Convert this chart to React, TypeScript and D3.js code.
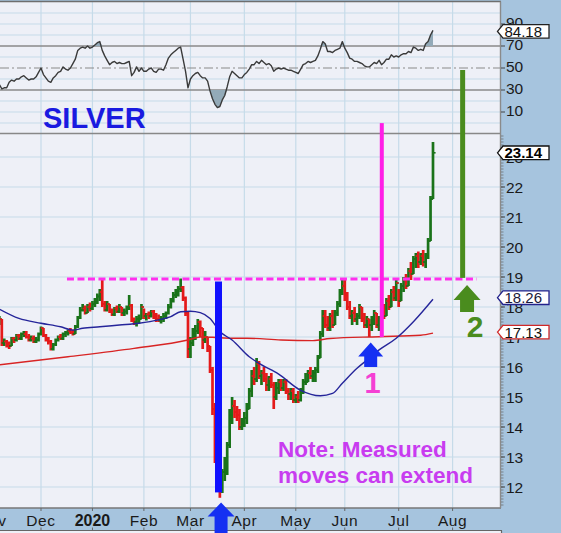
import React from "react";
import * as d3 from "d3";

// Daily bars [high, low, close]; trading-day index 0 = 1 Nov 2019
const nov19 = [[18.2,17.9,18.1],[18.1,17.8,17.9],[17.9,17.5,17.6],[17.7,17.4,17.6],[17.6,16.7,16.8],[16.95,16.7,16.85],[16.9,16.65,16.8],[16.85,16.6,16.7],[17.0,16.7,16.95],[17.0,16.8,16.9],[17.1,16.85,17.05],[17.1,16.9,16.95],[17.15,16.9,17.1],[17.2,17.0,17.1],[17.2,16.95,17.0],[17.1,16.85,16.9],[17.05,16.85,16.95],[17.05,16.8,16.85],[17.0,16.8,16.9],[17.15,16.85,17.1]];
const dec19 = [[17.35,17.05,17.3],[17.3,17.0,17.05],[17.1,16.85,16.9],[17.0,16.75,16.85],[16.9,16.55,16.6],[16.8,16.55,16.75],[16.95,16.7,16.9],[17.05,16.85,17.0],[17.1,16.9,16.95],[17.15,16.9,17.1],[17.2,17.0,17.15],[17.25,17.05,17.2],[17.3,17.1,17.15],[17.25,17.05,17.1],[17.4,17.1,17.35],[17.7,17.3,17.65],[18.0,17.6,17.9],[18.1,17.85,17.95],[18.05,17.75,17.8],[18.1,17.8,18.0],[18.15,17.85,17.95]];
const jan20 = [[18.2,17.9,18.1],[18.3,18.0,18.15],[18.45,18.1,18.35],[18.6,18.2,18.5],[18.9,18.0,18.1],[18.2,17.85,17.9],[18.2,17.85,18.1],[18.1,17.8,17.85],[17.95,17.7,17.75],[18.0,17.7,17.95],[18.05,17.8,17.85],[18.1,17.8,18.0],[18.0,17.7,17.8],[17.95,17.7,17.85],[18.05,17.75,17.95],[18.4,17.9,18.05],[18.1,17.5,17.55],[17.65,17.4,17.5],[17.7,17.35,17.6],[17.75,17.45,17.6],[18.1,17.6,18.0]];
const feb20 = [[17.95,17.6,17.7],[17.8,17.55,17.75],[17.85,17.6,17.7],[17.9,17.65,17.85],[17.9,17.6,17.65],[17.8,17.5,17.6],[17.75,17.5,17.55],[17.7,17.45,17.6],[17.8,17.5,17.7],[17.85,17.6,17.8],[18.1,17.75,18.0],[18.3,17.95,18.2],[18.5,18.15,18.4],[18.6,18.3,18.5],[18.7,18.35,18.6],[18.95,18.5,18.65],[18.7,18.2,18.3],[18.35,17.7,17.8],[17.85,16.3,16.6]];
const mar20 = [[17.0,16.3,16.8],[17.3,16.7,17.1],[17.4,16.9,17.2],[17.6,17.1,17.5],[17.55,17.0,17.3],[17.3,16.6,16.9],[17.2,16.8,17.0],[17.0,16.5,16.7],[16.7,15.8,15.9],[16.0,14.4,14.6],[14.8,12.8,13.0],[13.2,11.9,12.3],[12.9,11.64,12.0],[12.6,11.8,12.5],[13.0,12.2,12.6],[13.5,12.4,13.4],[14.6,13.3,14.4],[15.0,14.1,14.7],[14.9,14.3,14.5],[14.7,14.2,14.4],[14.6,13.9,14.0],[14.3,13.9,14.1]];
const apr20 = [[14.5,14.0,14.3],[14.8,14.1,14.6],[15.3,14.6,15.2],[15.9,15.0,15.7],[16.0,15.4,15.6],[16.3,15.5,16.1],[16.2,15.6,15.7],[15.9,15.4,15.8],[16.0,15.5,15.6],[15.8,15.2,15.4],[15.7,15.2,15.6],[15.8,15.3,15.4],[15.5,14.6,15.0],[15.5,14.9,15.3],[15.6,15.1,15.5],[15.6,15.2,15.3],[15.6,15.2,15.5],[15.6,15.1,15.2],[15.3,14.9,15.1],[15.3,14.9,15.2],[15.3,14.8,14.9]];
const may20 = [[15.1,14.8,15.0],[15.2,14.8,14.9],[15.3,14.85,15.2],[15.6,15.1,15.5],[15.8,15.4,15.5],[15.9,15.5,15.8],[16.0,15.6,15.7],[15.9,15.5,15.8],[16.0,15.5,15.9],[16.4,15.8,16.3],[17.2,16.3,17.1],[17.9,17.0,17.7],[17.9,17.3,17.4],[17.7,17.2,17.3],[17.8,17.2,17.7],[17.9,17.3,17.4],[17.9,17.4,17.8],[18.2,17.7,18.1],[18.6,18.0,18.5],[18.95,18.4,18.7]];
const jun20 = [[18.9,18.2,18.4],[18.5,17.9,18.0],[18.2,17.6,17.7],[17.9,17.4,17.8],[18.0,17.5,17.6],[17.8,17.4,17.7],[18.1,17.6,18.0],[18.0,17.5,17.6],[17.8,17.3,17.4],[17.7,17.3,17.6],[17.6,17.0,17.4],[17.7,17.2,17.6],[17.9,17.4,17.8],[17.8,17.3,17.4],[17.7,17.2,17.6],[18.0,17.5,17.9],[18.1,17.6,17.7],[18.3,17.7,18.2],[18.4,17.9,18.0],[18.6,18.0,18.5],[18.7,18.2,18.3],[18.9,18.2,18.8]];
const jul20 = [[18.6,18.0,18.2],[18.8,18.2,18.7],[19.0,18.5,18.9],[19.1,18.6,18.7],[19.3,18.7,19.2],[19.5,18.9,19.1],[19.7,19.1,19.6],[19.8,19.3,19.7],[19.85,19.3,19.5],[19.8,19.4,19.7],[19.9,19.35,19.5],[19.8,19.3,19.7],[20.3,19.6,20.2],[21.7,20.2,21.6],[23.5,21.6,23.14]];

// RSI(14) per trading day
const rsiNov = [45,42,38,35,31,32,32,37,39,38,40,40,42,43,41,39,40,40,42,46];
const rsiDec = [50,44,41,38,37,41,43,46,47,51,49,48,50,54,58,66,68,69,68,70,68];
const rsiJan = [69,71,73,74,66,61,57,53,55,56,54,55,54,54,55,56,43,46,51,47,50];
const rsiFeb = [47,47,49,50,47,46,49,49,48,53,59,62,64,66,68,69,58,47,32];
const rsiMar = [40,43,45,46,43,41,41,38,29,22,17,14,15,21,25,33,42,47,45,43,41,41];
const rsiApr = [44,46,49,53,53,56,54,57,55,53,54,52,47,49,50,49,50,49,48,48,47];
const rsiMay = [46,45,49,53,54,56,55,56,57,61,67,74,72,65,65,64,66,67,68,74];
const rsiJun = [68,64,59,58,56,56,55,54,52,51,51,53,55,54,57,53,55,58,58,62,60,61];
const rsiJul = [60,62,63,63,65,64,69,68,66,67,66,72,74,80,84.18];

// Moving averages read at [trading day, value]
const sma50 = [[3,17.93],[11,17.62],[20,17.46],[28,17.34],[33,17.23],[37,17.29],[44,17.34],[52,17.4],[60,17.46],[68,17.57],[73,17.68],[77,17.84],[81,17.86],[85,17.81],[89,17.62],[93,17.18],[98,16.9],[105,16.34],[109,16.12],[117,15.76],[126,15.22],[134,15.04],[139,15.12],[143,15.46],[149,15.96],[153,16.23],[158,16.57],[165,16.96],[172,17.51],[180,18.26]];
const sma200 = [[3,16.07],[31,16.34],[58,16.62],[80,16.9],[85,17.0],[90,16.99],[98,16.96],[104,16.96],[118,16.9],[131,16.88],[138,16.95],[158,17.01],[175,17.06],[180,17.13]];

const monthLabels = ["Nov", "Dec", "2020", "Feb", "Mar", "Apr", "May", "Jun", "Jul", "Aug"];
const monthStartDays = [0, 20, 41, 62, 81, 103, 124, 144, 166, 188];
const priceTicks = [12, 13, 14, 15, 16, 17, 18, 19, 20, 21, 22, 23];
const rsiTicks = [10, 30, 50, 70, 90];
const rsiGrid = [0, 10, 20, 40, 60, 80, 90, 100];

const lastPrice = 23.14;
const lastSma50 = 18.26;
const lastSma200 = 17.13;
const lastRsi = 84.18;

const resistanceLevel = 18.93;
const resistanceDays = [30.6, 197.9];
// measured moves: [day, from, to]
const moveBlue = [92.45, 18.85, 11.82];
const movePink = [159.1, 17.0, 24.13];
const moveGreen = [192.1, 18.97, 25.9];
// arrow tips [day, value]
const arrow1 = [154.57, 16.82];
const arrowLow = [93.5, 11.48];
const arrow2 = [193.9, 18.73];

const FONT = "'Liberation Sans', Arial, Helvetica, sans-serif";

export default function App() {
  const x = d3.scaleLinear().domain([3.265, 207.35]).range([0, 500]);
  const yP = d3.scaleLinear().domain([11.3, 23.8]).range([508, 133]);
  const yR = d3.scaleLinear().domain([-9.09, 110]).range([133, 2]);

  const raw = [...nov19, ...dec19, ...jan20, ...feb20, ...mar20, ...apr20, ...may20, ...jun20, ...jul20];
  const bars = raw.map((d, i) => ({
    day: i,
    high: d[0],
    low: d[1],
    close: d[2],
    open: i > 0 ? raw[i - 1][2] : d[2],
  }));
  const rsi = [...rsiNov, ...rsiDec, ...rsiJan, ...rsiFeb, ...rsiMar, ...rsiApr, ...rsiMay, ...rsiJun, ...rsiJul].map((v, i) => ({ day: i, v }));

  const rsiLine = d3.line<any>().x((d) => x(d.day)).y((d) => yR(d.v));
  const obArea = d3.area<any>().x((d) => x(d.day)).y0(yR(70)).y1((d) => yR(Math.max(70, d.v)));
  const osArea = d3.area<any>().x((d) => x(d.day)).y0(yR(30)).y1((d) => yR(Math.min(30, d.v)));
  const maLine = d3.line<number[]>().x((d) => x(d[0])).y((d) => yP(d[1])).curve(d3.curveMonotoneX);

  const minorTicks = d3.range(114, 238).map((v) => v / 10);

  const arrowPath = (cx: number, ty: number, hw: number, hh: number, sw: number, sh: number) =>
    `M${cx},${ty} L${cx + hw},${ty + hh} L${cx + sw},${ty + hh} L${cx + sw},${ty + hh + sh} L${cx - sw},${ty + hh + sh} L${cx - sw},${ty + hh} L${cx - hw},${ty + hh} Z`;

  const boxPath = (cy: number) => `M497.5,${cy} L503,${cy - 6.8} L549,${cy - 6.8} L549,${cy + 6.8} L503,${cy + 6.8} Z`;

  const valueBoxes = [
    { v: yP(lastPrice), text: lastPrice.toFixed(2), stroke: "#111", bold: true, fill: "#000" },
    { v: yP(lastSma50) - 1.5, text: lastSma50.toFixed(2), stroke: "#23238c", bold: false, fill: "#1a1a3a" },
    { v: yP(lastSma200) - 1, text: lastSma200.toFixed(2), stroke: "#d02828", bold: false, fill: "#111" },
    { v: yR(lastRsi) + 1, text: lastRsi.toFixed(2), stroke: "#222", bold: false, fill: "#111" },
  ];

  const moves = [
    { m: moveBlue, color: "#1010ff", w: 7 },
    { m: movePink, color: "#ff1ee6", w: 4 },
    { m: moveGreen, color: "#4a8c1e", w: 5 },
  ];

  const bg = "#a6c4de";
  const panel = "#eef0f7";
  const grid = "#c6dbe9";

  return (
    <svg width={561} height={533} style={{ position: "absolute", left: 0, top: 0, display: "block" }} fontFamily={FONT}>
      <defs>
        <clipPath id="priceClip"><rect x={0} y={133} width={500} height={375} /></clipPath>
        <clipPath id="rsiClip"><rect x={0} y={2} width={500} height={131} /></clipPath>
      </defs>
      <rect x={0} y={0} width={561} height={533} fill={bg} />
      <rect x={0} y={2} width={500} height={506} fill={panel} />
      <rect x={0} y={531} width={502} height={4} fill={panel} />

      {/* grid: vertical month lines */}
      {monthStartDays.map((d, i) => (
        <line key={"vg" + i} x1={x(d)} x2={x(d)} y1={2} y2={508} stroke={grid} strokeWidth={1.2} />
      ))}
      {/* price horizontal grid */}
      {priceTicks.map((v) => (
        <line key={"pg" + v} x1={0} x2={500} y1={yP(v)} y2={yP(v)} stroke={grid} strokeWidth={1} />
      ))}
      {/* rsi horizontal grid */}
      {rsiGrid.map((v) => (
        <line key={"rg" + v} x1={0} x2={500} y1={yR(v)} y2={yR(v)} stroke={grid} strokeWidth={1} />
      ))}

      {/* RSI panel */}
      <g clipPath="url(#rsiClip)">
        <line x1={0} x2={500} y1={yR(70)} y2={yR(70)} stroke="#8a8a8a" strokeWidth={1.6} />
        <line x1={0} x2={500} y1={yR(30)} y2={yR(30)} stroke="#8a8a8a" strokeWidth={1.6} />
        <line x1={0} x2={500} y1={yR(50)} y2={yR(50)} stroke="#8a8a8a" strokeWidth={1.2} strokeDasharray="9,3,2,3" />
        <path d={obArea(rsi) || ""} fill="#93aab8" />
        <path d={osArea(rsi) || ""} fill="#93aab8" />
        <path d={rsiLine(rsi) || ""} fill="none" stroke="#3a3a3a" strokeWidth={1.4} strokeLinejoin="round" />
      </g>

      {/* price bars */}
      <g clipPath="url(#priceClip)">
        {bars.map((b) => {
          const up = b.close >= b.open;
          const c = up ? "#1a731a" : "#e41a1a";
          const cx = x(b.day);
          return (
            <g key={"b" + b.day} stroke={c}>
              <line x1={cx} x2={cx} y1={yP(b.high)} y2={yP(b.low)} strokeWidth={2.7} />
              <line x1={cx - 2.6} x2={cx} y1={yP(b.open)} y2={yP(b.open)} strokeWidth={1.6} />
              <line x1={cx} x2={cx + 2.6} y1={yP(b.close)} y2={yP(b.close)} strokeWidth={1.6} />
            </g>
          );
        })}
        <path d={maLine(sma200) || ""} fill="none" stroke="#d82424" strokeWidth={1.4} />
        <path d={maLine(sma50) || ""} fill="none" stroke="#25259a" strokeWidth={1.4} />
      </g>

      {/* panel borders */}
      <line x1={0} x2={501} y1={1.5} y2={1.5} stroke="#6e6e6e" strokeWidth={1.5} />
      <line x1={0} x2={501} y1={133.5} y2={133.5} stroke="#888" strokeWidth={1.6} />
      <line x1={0} x2={501} y1={508} y2={508} stroke="#777" strokeWidth={1.5} />
      <line x1={500.5} x2={500.5} y1={1.5} y2={508} stroke="#8a8a8a" strokeWidth={1.4} />
      <line x1={0} x2={502} y1={530.5} y2={530.5} stroke="#666" strokeWidth={1.2} />
      <line x1={501.5} x2={501.5} y1={530.5} y2={533} stroke="#666" strokeWidth={1.2} />

      {/* right axis ticks */}
      {minorTicks.map((v, i) => (
        <line key={"mt" + i} x1={501} x2={503.5} y1={yP(v)} y2={yP(v)} stroke="#666" strokeWidth={0.7} />
      ))}
      {priceTicks.map((v) => (
        <line key={"pt" + v} x1={501} x2={505} y1={yP(v)} y2={yP(v)} stroke="#444" strokeWidth={1} />
      ))}
      {rsiTicks.map((v) => (
        <line key={"rt" + v} x1={501} x2={505} y1={yR(v)} y2={yR(v)} stroke="#444" strokeWidth={1} />
      ))}
      {priceTicks.map((v) => (
        <text key={"pl" + v} x={506} y={yP(v)} dy="0.36em" fontSize={15.5} fill="#1a1a1a">{v}</text>
      ))}
      {rsiTicks.map((v) => (
        <text key={"rl" + v} x={506} y={yR(v) - 1.5} dy="0.36em" fontSize={15.5} fill="#1a1a1a">{v}</text>
      ))}

      {/* x axis */}
      {monthStartDays.map((d, i) => (
        <g key={"xt" + i}>
          <line x1={x(d)} x2={x(d)} y1={508} y2={511} stroke="#666" strokeWidth={1} />
          <line x1={x(d)} x2={x(d)} y1={527.5} y2={530.5} stroke="#666" strokeWidth={1} />
          <text
            x={x(d)}
            y={526}
            textAnchor="middle"
            fontSize={monthLabels[i] === "2020" ? 16 : 15.5}
            fontWeight={monthLabels[i] === "2020" ? "bold" : "normal"}
            letterSpacing={monthLabels[i] === "2020" ? 0 : 0.6}
            fill="#1a1a1a"
          >
            {monthLabels[i]}
          </text>
        </g>
      ))}

      {/* resistance line */}
      <line
        x1={x(resistanceDays[0])}
        x2={x(resistanceDays[1])}
        y1={yP(resistanceLevel)}
        y2={yP(resistanceLevel)}
        stroke="#ff30ee"
        strokeWidth={3}
        strokeDasharray="7,3.5"
      />

      {/* measured moves */}
      {moves.map((mv, i) => (
        <rect
          key={"mv" + i}
          x={x(mv.m[0]) - mv.w / 2}
          y={yP(Math.max(mv.m[1], mv.m[2]))}
          width={mv.w}
          height={Math.abs(yP(mv.m[1]) - yP(mv.m[2]))}
          fill={mv.color}
        />
      ))}

      {/* arrows */}
      <path d={arrowPath(x(arrow1[0]), yP(arrow1[1]), 12.5, 14, 6.5, 10.5)} fill="#1530f2" />
      <path d={arrowPath(x(arrowLow[0]), yP(arrowLow[1]), 13.5, 14, 6.5, 20)} fill="#1530f2" />
      <path d={arrowPath(x(arrow2[0]), yP(arrow2[1]), 13.5, 15, 7, 12)} fill="#4a8c1e" />

      {/* texts */}
      <text x={372.5} y={393} textAnchor="middle" fontSize={29} fontWeight="bold" fill="#f540d4">1</text>
      <text x={475} y={337} textAnchor="middle" fontSize={30} fontWeight="bold" fill="#4a8c1e">2</text>
      <text x={43} y={128} fontSize={29} fontWeight="bold" fill="#1a1ae0">SILVER</text>
      <text x={278} y={457} fontSize={22.5} fontWeight="bold" fill="#c83cf0">Note: Measured</text>
      <text x={278} y={483} fontSize={22.5} fontWeight="bold" fill="#c83cf0">moves can extend</text>

      {/* value boxes */}
      {valueBoxes.map((b, i) => (
        <g key={"vb" + i}>
          <path d={boxPath(b.v)} fill="#fff" stroke={b.stroke} strokeWidth={1.3} />
          <text x={504.5} y={b.v} dy="0.36em" fontSize={15} fontWeight={b.bold ? "bold" : "normal"} fill={b.fill}>
            {b.text}
          </text>
        </g>
      ))}
    </svg>
  );
}
